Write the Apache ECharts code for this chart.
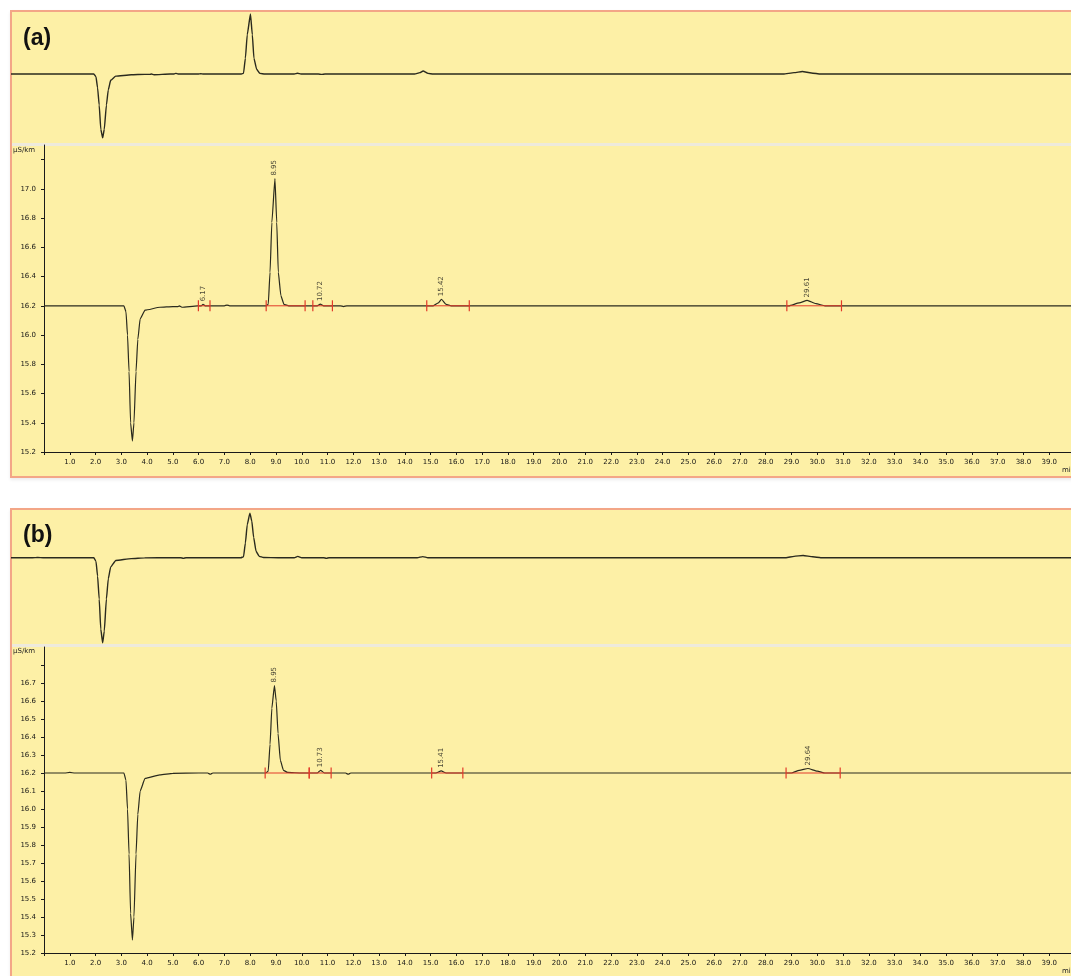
<!DOCTYPE html>
<html><head><meta charset="utf-8">
<script src="https://cdn.jsdelivr.net/npm/echarts@6/dist/echarts.min.js"></script>
<style>
html,body{margin:0;padding:0;background:#fff;overflow:hidden;width:1071px;height:976px;}
.frame{position:absolute;left:10px;width:1100px;background:#fdf0a6;border:2px solid #f3a687;box-sizing:border-box;box-shadow:0 2px 3px rgba(0,0,0,0.08);}
.sep{position:absolute;left:12px;width:1100px;height:3px;background:#eeeadc;}
#chart{position:absolute;left:0;top:0;width:1100px;height:976px;}
</style></head><body>
<div class="frame" style="top:10px;height:468px"></div>
<div class="sep" style="top:143px"></div>
<div class="frame" style="top:508px;height:480px"></div>
<div class="sep" style="top:644px"></div>
<div id="chart"></div>
<script>
// ---- Data: chromatogram (a) ----
const timesA = [0, 1.0, 2.0, 3.0, 3.1, 3.18, 3.24, 3.30, 3.36, 3.43, 3.49, 3.57, 3.64, 3.73, 3.92, 4.5, 5.0, 5.2, 5.25, 5.35, 5.95, 6.1, 6.17, 6.25, 6.4, 7.0, 7.1, 7.2, 8.62, 8.70, 8.77, 8.84, 8.96, 9.03, 9.09, 9.19, 9.31, 9.5, 10.1, 10.6, 10.72, 10.85, 11.5, 11.62, 11.75, 15.1, 15.3, 15.42, 15.6, 15.8, 28.9, 29.3, 29.61, 29.95, 30.3, 40];
const signalA = [16.2, 16.2, 16.2, 16.2, 16.2, 16.16, 16.0, 15.75, 15.4, 15.275, 15.4, 15.75, 15.97, 16.11, 16.17, 16.19, 16.195, 16.195, 16.2, 16.19, 16.2, 16.2, 16.21, 16.2, 16.2, 16.2, 16.205, 16.2, 16.2, 16.21, 16.43, 16.77, 17.07, 16.77, 16.43, 16.27, 16.21, 16.2, 16.2, 16.2, 16.212, 16.2, 16.2, 16.195, 16.2, 16.2, 16.22, 16.245, 16.21, 16.2, 16.2, 16.22, 16.237, 16.215, 16.2, 16.2];
const peakTimesA = [6.17, 8.95, 10.72, 15.42, 29.61];
const peakTopsA = [16.21, 17.07, 16.212, 16.245, 16.237];
const integrA = [[5.99, 6.44], [8.62, 10.13], [10.43, 11.19], [14.85, 16.5], [28.82, 30.94]];

// ---- Data: chromatogram (b) ----
const timesB = [0, 0.8, 1.0, 1.2, 2.0, 3.0, 3.1, 3.18, 3.24, 3.30, 3.36, 3.43, 3.49, 3.57, 3.64, 3.73, 3.92, 4.5, 5.0, 6.0, 6.35, 6.45, 6.55, 7.0, 8.6, 8.70, 8.77, 8.84, 8.94, 9.01, 9.08, 9.17, 9.29, 9.45, 10.0, 10.6, 10.73, 10.88, 11.7, 11.8, 11.9, 15.2, 15.41, 15.6, 29.0, 29.3, 29.64, 30.0, 30.3, 40];
const signalB = [16.2, 16.2, 16.203, 16.2, 16.2, 16.2, 16.2, 16.16, 16.0, 15.75, 15.42, 15.272, 15.4, 15.75, 15.97, 16.1, 16.17, 16.19, 16.198, 16.2, 16.2, 16.193, 16.2, 16.2, 16.2, 16.21, 16.36, 16.56, 16.686, 16.6, 16.42, 16.27, 16.215, 16.203, 16.2, 16.2, 16.215, 16.2, 16.2, 16.193, 16.2, 16.2, 16.212, 16.2, 16.2, 16.215, 16.225, 16.21, 16.2, 16.2];
const peakTimesB = [8.95, 10.73, 15.41, 29.64];
const peakTopsB = [16.686, 16.215, 16.212, 16.225];
const integrB = [[8.58, 10.29], [10.29, 11.14], [15.04, 16.25], [28.79, 30.89]];

const BASE = 16.2;

const zip = (t, v) => t.map((x, i) => [x, v[i]]);
const ptsA = zip(timesA, signalA);
const ptsB = zip(timesB, signalB);

const lineColor = '#2a2a1e';
const axisColor = '#1a1a1a';
const tickFont = {fontSize: 7, fontFamily: 'DejaVu Sans', color: '#151515'};

function traceSeries(data, xi, yi, w) {
  return {type: 'line', data: data, xAxisIndex: xi, yAxisIndex: yi, symbol: 'none',
    smooth: 0.15, smoothMonotone: 'x', lineStyle: {color: lineColor, width: w}, z: 3, silent: true};
}
function integrSeries(list, xi, yi) {
  return list.map(seg => ({type: 'line', xAxisIndex: xi, yAxisIndex: yi,
    data: [[seg[0], BASE], [seg[1], BASE]], symbol: 'rect', symbolSize: [1.2, 11],
    itemStyle: {color: '#e23a2a'}, lineStyle: {color: '#e23a2a', width: 1}, z: 4, silent: true}));
}
function labelSeries(times, tops, xi, yi) {
  return {type: 'scatter', xAxisIndex: xi, yAxisIndex: yi, symbolSize: 0, z: 5, silent: true,
    data: times.map((t, i) => [t, tops[i]]),
    label: {show: true, position: 'top', distance: 3, rotate: 90, align: 'left', verticalAlign: 'middle',
      fontSize: 7, fontFamily: 'DejaVu Sans', color: '#151515',
      formatter: p => p.value[0].toFixed(2)}};
}
function mainX(gi) {
  return {type: 'value', gridIndex: gi, min: 0, max: 40, interval: 1,
    axisLine: {show: true, lineStyle: {color: axisColor, width: 1}},
    axisTick: {show: true, length: 3, lineStyle: {color: axisColor}},
    splitLine: {show: false},
    axisLabel: Object.assign({margin: 7, showMaxLabel: false, formatter: v => (v <= 0 || v >= 40) ? '' : v.toFixed(1)}, tickFont)};
}
function mainY(gi, min, max, interval, hideAbove) {
  return {type: 'value', gridIndex: gi, min: min, max: max, interval: interval,
    axisLine: {show: true, lineStyle: {color: axisColor, width: 1}},
    axisTick: {show: true, length: 3, lineStyle: {color: axisColor}},
    splitLine: {show: false},
    axisLabel: Object.assign({margin: 8, showMaxLabel: false, formatter: v => v > hideAbove ? '' : v.toFixed(1)}, tickFont)};
}
const hidden = (gi, min, max) => ({type: 'value', gridIndex: gi, min: min, max: max, show: false, splitLine: {show: false}});

const chart = echarts.init(document.getElementById('chart'), null, {renderer: 'canvas'});
chart.setOption({
  animation: false,
  backgroundColor: 'transparent',
  grid: [
    {left: 11, top: 12, width: 1069, height: 131},
    {left: 44, top: 145, width: 1031, height: 307},
    {left: 11, top: 510, width: 1069, height: 134},
    {left: 44, top: 647, width: 1031, height: 306}
  ],
  xAxis: [hidden(0, 0, 40), mainX(1), hidden(2, 0, 40), mainX(3)],
  yAxis: [hidden(0, 15.2, 17.1), mainY(1, 15.2, 17.3, 0.2, 17.1), hidden(2, 15.26, 16.72), mainY(3, 15.2, 16.9, 0.1, 16.75)],
  series: [
    traceSeries(ptsA, 0, 0, 1.4),
    traceSeries(ptsA, 1, 1, 1.2),
    traceSeries(ptsB, 2, 2, 1.4),
    traceSeries(ptsB, 3, 3, 1.2),
    ...integrSeries(integrA, 1, 1),
    ...integrSeries(integrB, 3, 3),
    labelSeries(peakTimesA, peakTopsA, 1, 1),
    labelSeries(peakTimesB, peakTopsB, 3, 3)
  ],
  graphic: [
    {type: 'text', left: 23, top: 27, style: {text: '(a)', font: 'bold 23px "Liberation Sans", Arial, sans-serif', fill: '#111'}},
    {type: 'text', left: 23, top: 524, style: {text: '(b)', font: 'bold 23px "Liberation Sans", Arial, sans-serif', fill: '#111'}},
    {type: 'text', left: 13, top: 147, style: {text: 'µS/km', font: '7px "DejaVu Sans"', fill: '#222'}},
    {type: 'text', left: 13, top: 648, style: {text: 'µS/km', font: '7px "DejaVu Sans"', fill: '#222'}},
    {type: 'text', left: 1062, top: 467, style: {text: 'min', font: '7px "DejaVu Sans"', fill: '#222'}},
    {type: 'text', left: 1062, top: 968, style: {text: 'min', font: '7px "DejaVu Sans"', fill: '#222'}}
  ]
});
</script>
</body></html>
